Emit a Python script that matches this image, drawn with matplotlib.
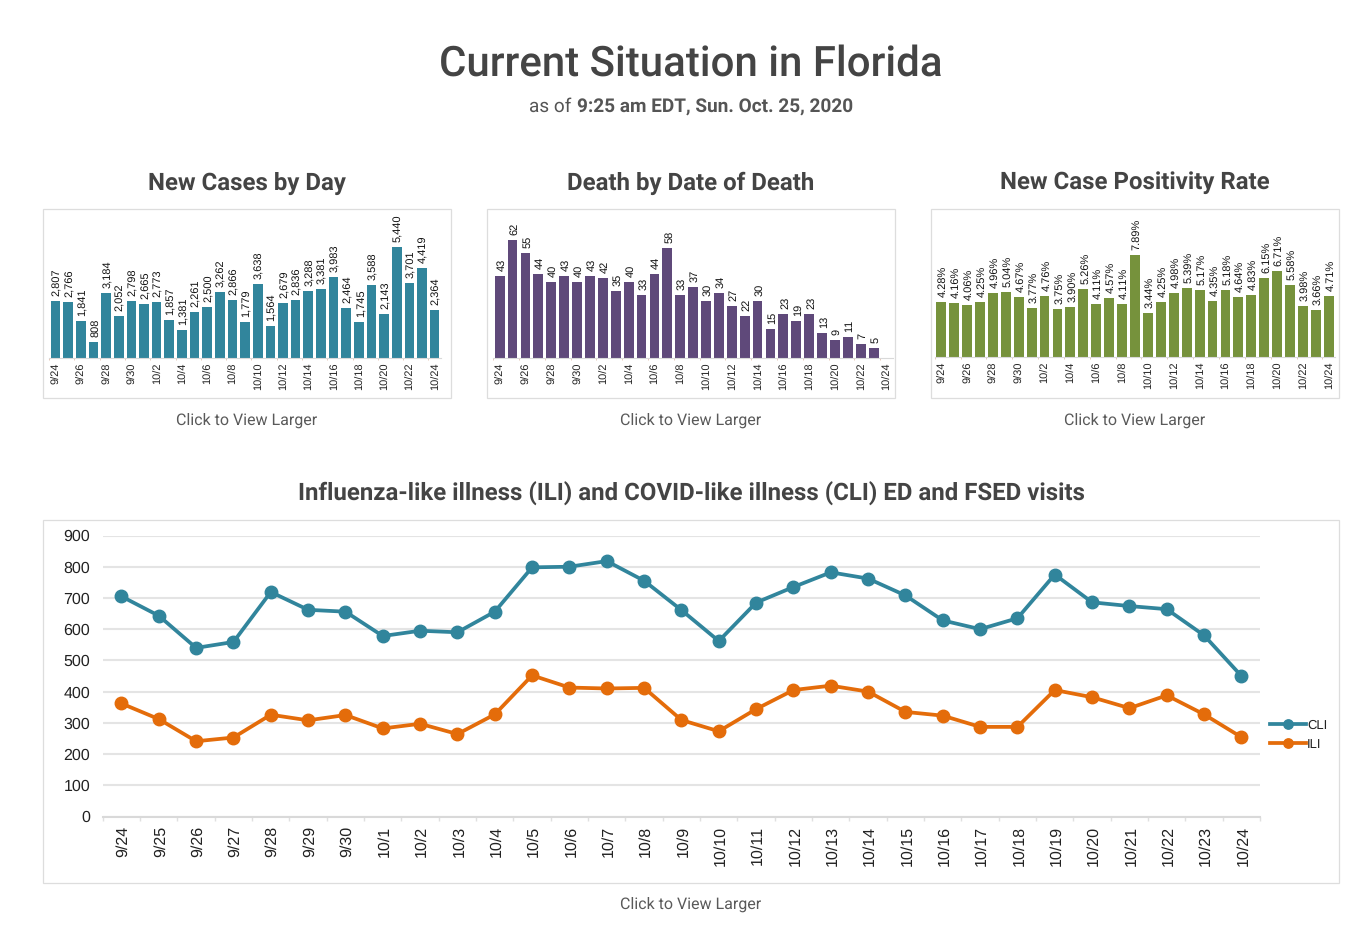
import matplotlib
matplotlib.use('Agg')
import matplotlib.pyplot as plt
from matplotlib.patches import Rectangle

plt.rcParams['text.hinting'] = 'no_hinting'
plt.rcParams['text.hinting_factor'] = 1

days = ['9/24','9/25','9/26','9/27','9/28','9/29','9/30','10/1','10/2','10/3','10/4',
        '10/5','10/6','10/7','10/8','10/9','10/10','10/11','10/12','10/13','10/14',
        '10/15','10/16','10/17','10/18','10/19','10/20','10/21','10/22','10/23','10/24']
new_cases = [2807,2766,1841,808,3184,2052,2798,2665,2773,1857,1381,2261,2500,3262,2866,
             1779,3638,1564,2679,2836,3288,3381,3983,2464,1745,3588,2143,5440,3701,4419,2364]
deaths = [43,62,55,44,40,43,40,43,42,35,40,33,44,58,33,37,30,34,27,22,30,15,23,19,23,13,9,11,7,5]
positivity = [4.28,4.16,4.06,4.25,4.96,5.04,4.67,3.77,4.76,3.75,3.90,5.26,4.11,4.57,4.11,
              7.89,3.44,4.25,4.98,5.39,5.17,4.35,5.18,4.64,4.83,6.15,6.71,5.58,3.98,3.66,4.71]
cli = [705,643,540,559,719,662,656,578,595,590,656,798,800,818,755,661,562,685,735,782,762,
       708,628,600,635,775,686,674,664,580,450]
ili = [362,312,241,253,326,308,325,282,297,264,327,452,413,410,412,309,273,344,405,419,400,
       335,323,287,287,405,382,347,388,327,254]

W, H = 1357, 950
fig = plt.figure(figsize=(W/100, H/100), dpi=100, facecolor='white')

def axes_px(left, right, top, bottom):
    return fig.add_axes([left/W, 1-bottom/H, (right-left)/W, (bottom-top)/H])

def text_px(x, y, s, **kw):
    kw.setdefault('family', 'Roboto')
    kw.setdefault('ha', 'center')
    kw.setdefault('va', 'center')
    return fig.text(x/W, 1-y/H, s, **kw)

def frame_px(left, right, top, bottom):
    fig.add_artist(Rectangle((left/W, 1-bottom/H), (right-left)/W, (bottom-top)/H,
                             transform=fig.transFigure, fill=False, ec='#dddddd', lw=0.9))

def bar_panel(box, left, right, base, px_per_unit, vals, color, labels, title, xc):
    frame_px(*box)
    top = 214
    ax = axes_px(left, right, top, base)
    ax.bar(range(len(vals)), vals, width=0.76, color=color)
    ax.set_xlim(-0.5, 30.5)
    ax.set_ylim(0, (base-top)/px_per_unit)
    ax.set_yticks([])
    for s in ['top', 'left', 'right']:
        ax.spines[s].set_visible(False)
    ax.spines['bottom'].set_color('#d9d9d9')
    ax.set_xticks(range(0, 31, 2))
    ax.set_xticklabels(days[::2], rotation=90, ha='right', va='center_baseline', rotation_mode='anchor',
                       family='Liberation Sans', fontsize=8, color='#222222')
    ax.set_xticks([i-0.5 for i in range(0, 32, 2)], minor=True)
    ax.tick_params(axis='x', which='major', length=0, pad=3.5)
    ax.tick_params(axis='x', which='minor', length=1.5, color='#e8c8b8', width=0.7)
    for i, v in enumerate(vals):
        ax.annotate(labels[i], (i, v), xytext=(0.5, 3.6), textcoords='offset points', rotation=90,
                    ha='left', va='center_baseline', rotation_mode='anchor',
                    family='Liberation Sans', fontsize=8.1, color='#111111')
    text_px(xc, 183, title, fontsize=17.2, fontweight='bold', color='#444444')
    text_px(xc, 420, 'Click to View Larger', fontsize=11.2, color='#5a5a5a')

text_px(691, 64, 'Current Situation in Florida', fontsize=30.4, fontweight='medium', color='#444444')
text_px(576, 107, 'as of ', fontsize=13.6, color='#555555', ha='right')
text_px(577, 107, '9:25 am EDT, Sun. Oct. 25, 2020', fontsize=13.6, fontweight='bold', color='#555555', ha='left')

bar_panel((43, 451, 209, 398), 49.2, 441, 358, 110.7/5440, new_cases, '#31859c',
          [f'{v:,}' for v in new_cases], 'New Cases by Day', 247)
bar_panel((487, 895, 209, 398), 493.2, 893, 357.5, 117.5/62, deaths, '#5f497a',
          [str(v) for v in deaths], 'Death by Date of Death', 691)
bar_panel((931, 1339, 209, 398), 934.7, 1335.3, 357, 101.6/7.89, positivity, '#76923c',
          [f'{v:.2f}%' for v in positivity], 'New Case Positivity Rate', 1135)

# bottom line chart
frame_px(43, 1339, 520, 883)
ax = axes_px(102.8, 1260.1, 535.5, 816.5)
ax.plot(range(31), cli, color='#31859c', lw=2.7, marker='o', ms=9, label='CLI', clip_on=False, zorder=3)
ax.plot(range(31), ili, color='#e46c0a', lw=2.7, marker='o', ms=9, label='ILI', clip_on=False, zorder=3)
ax.set_xlim(-0.5, 30.5)
ax.set_ylim(0, 900)
ax.set_yticks(range(0, 901, 100))
ax.grid(axis='y', color='#e4e4e4', lw=1.5)
ax.set_axisbelow(True)
for s in ['top', 'left', 'right']:
    ax.spines[s].set_visible(False)
ax.spines['bottom'].set_color('#d9d9d9')
ax.spines['bottom'].set_linewidth(1.5)
ax.set_xticks(range(31))
ax.set_xticklabels(days, rotation=90, ha='right', va='center_baseline', rotation_mode='anchor',
                   family='Liberation Sans', fontsize=11.2, color='#222222')
ax.set_xticks([i-0.5 for i in range(32)], minor=True)
ax.tick_params(axis='x', which='major', length=0, pad=7)
ax.tick_params(axis='x', which='minor', length=3, color='#e0e0e0', width=1)
ax.tick_params(axis='y', length=0, pad=9, labelsize=11.4, labelcolor='#222222')
for t in ax.get_yticklabels():
    t.set_family('Liberation Sans')
leg = ax.legend(loc='center left', bbox_to_anchor=(1270/W, 1-735/H), bbox_transform=fig.transFigure,
                frameon=False, prop={'family': 'Liberation Sans', 'size': 9.5}, handlelength=2.7,
                handletextpad=0.1, labelspacing=0.55, borderpad=0, borderaxespad=0, markerscale=0.75)
for t in leg.get_texts():
    t.set_color('#222222')

text_px(691, 494, 'Influenza-like illness (ILI) and COVID-like illness (CLI) ED and FSED visits',
        fontsize=17.25, fontweight='bold', color='#444444')
text_px(691, 904, 'Click to View Larger', fontsize=11.2, color='#5a5a5a')

fig.savefig('out.png', dpi=100)
